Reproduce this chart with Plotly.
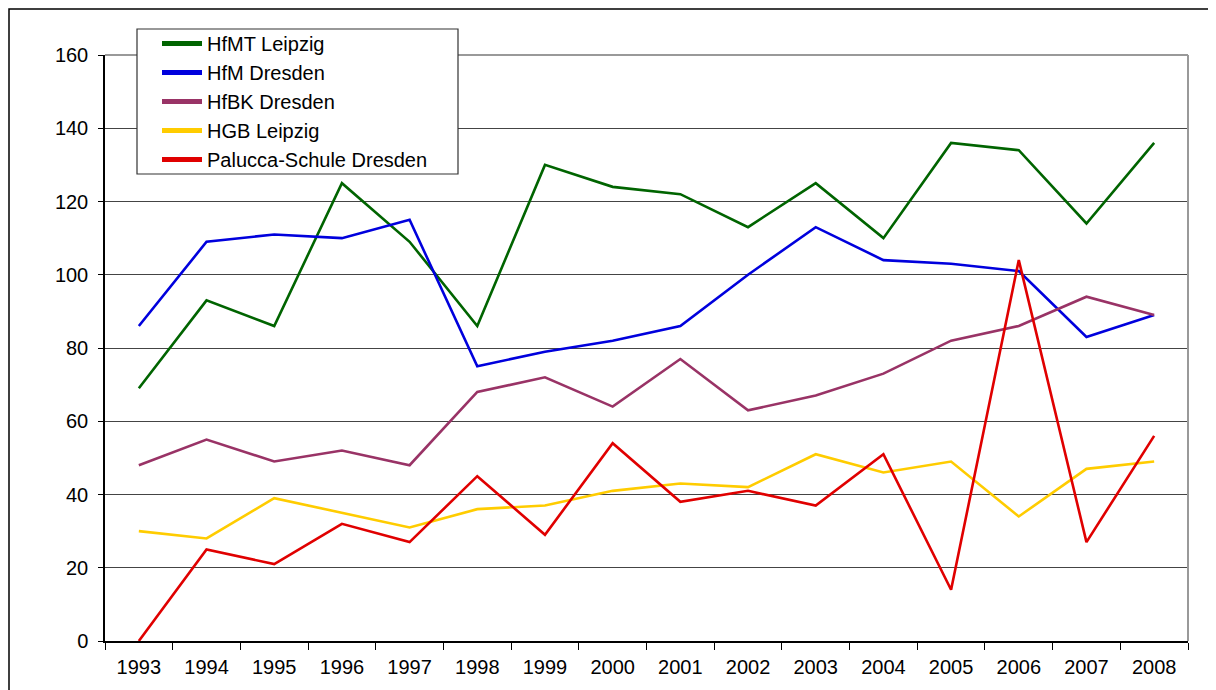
import plotly.graph_objects as go

years = [str(y) for y in range(1993, 2009)]
hfmt_leipzig = [69, 93, 86, 125, 109, 86, 130, 124, 122, 113, 125, 110, 136, 134, 114, 136]
hfm_dresden = [86, 109, 111, 110, 115, 75, 79, 82, 86, 100, 113, 104, 103, 101, 83, 89]
hfbk_dresden = [48, 55, 49, 52, 48, 68, 72, 64, 77, 63, 67, 73, 82, 86, 94, 89]
hgb_leipzig = [30, 28, 39, 35, 31, 36, 37, 41, 43, 42, 51, 46, 49, 34, 47, 49]
palucca = [0, 25, 21, 32, 27, 45, 29, 54, 38, 41, 37, 51, 14, 104, 27, 56]

series = [
    ("HfMT Leipzig", hfmt_leipzig, "#006400"),
    ("HfM Dresden", hfm_dresden, "#0000DD"),
    ("HfBK Dresden", hfbk_dresden, "#993366"),
    ("HGB Leipzig", hgb_leipzig, "#FFCC00"),
    ("Palucca-Schule Dresden", palucca, "#E00000"),
]

fig = go.Figure()
for i, (name, vals, col) in enumerate(series):
    fig.add_trace(go.Scatter(x=years, y=vals, name=name, mode="lines",
                             line=dict(color=col, width=2.6), cliponaxis=False))

# page body has an 8px margin; place the figure accordingly
OFF = 8
W, H = 1216, 690
L, R, T, B = 105 - OFF, 1188 - OFF, 55 - OFF, 641 - OFF
pw, ph = R - L, B - T

def px(x):
    return (x - OFF - L) / pw

def py(y):
    return (B - (y - OFF)) / ph

fig.update_layout(
    width=W, height=H,
    margin=dict(l=L, r=W - R, t=T, b=H - B, pad=0),
    paper_bgcolor="white", plot_bgcolor="white",
    font=dict(family="Liberation Sans, Arial, sans-serif", size=20, color="black"),
    showlegend=True,
    legend=dict(x=px(157), y=py(24), xanchor="left", yanchor="top",
                bgcolor="rgba(0,0,0,0)", borderwidth=0,
                font=dict(size=20), itemwidth=40, tracegroupgap=0,
                itemsizing="constant"),
    xaxis=dict(type="category", tickson="boundaries", ticks="outside", ticklen=7,
               tickcolor="black", showline=True, linecolor="black", linewidth=1.5,
               showgrid=False, range=[-0.5, 15.5], tickfont=dict(size=20),
               ticklabelstandoff=7, mirror=False),
    yaxis=dict(range=[0, 160], dtick=20, ticks="outside", ticklen=5, tickcolor="black",
               showline=True, linecolor="black", linewidth=1.5,
               showgrid=True, gridcolor="#444", gridwidth=1,
               zeroline=False, tickfont=dict(size=20), ticklabelstandoff=6),
    shapes=[
        dict(type="line", xref="paper", yref="paper", x0=0, x1=1, y0=1, y1=1,
             line=dict(color="#999", width=2)),
        dict(type="line", xref="paper", yref="paper", x0=1, x1=1, y0=0, y1=1,
             line=dict(color="#999", width=2)),
        dict(type="rect", xref="paper", yref="paper", x0=px(9), x1=px(1260),
             y0=py(720), y1=py(9), line=dict(color="black", width=1.5),
             layer="below"),
        dict(type="rect", xref="paper", yref="paper", x0=px(137), x1=px(458),
             y0=py(174), y1=py(29), line=dict(color="#333", width=1.2),
             fillcolor="white", layer="above"),
    ],
)

fig.write_html("out.html")
